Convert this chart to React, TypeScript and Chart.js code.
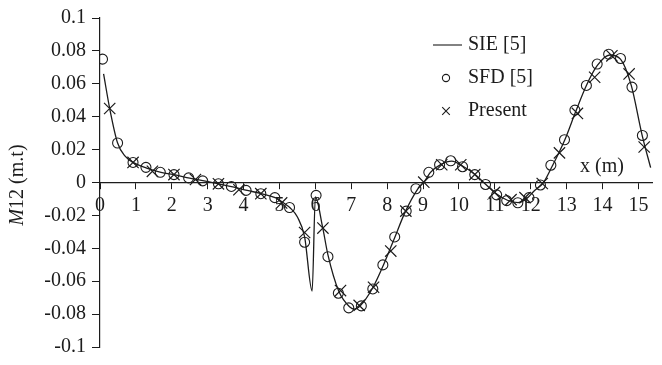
import React, { useEffect, useRef } from 'react';
import { Chart, registerables } from 'chart.js';

Chart.register(...registerables);

// SIE [5] — continuous curve
const sieX = [0.1, 0.27, 0.49, 0.7, 0.92, 1.3, 1.7, 2.1, 2.5, 2.9, 3.3, 3.7, 4.1, 4.5, 4.9, 5.1, 5.3, 5.5, 5.7, 5.91, 6.0, 6.2, 6.35, 6.65, 6.95, 7.1, 7.25, 7.6, 7.9, 8.2, 8.5, 8.85, 9.05, 9.2, 9.5, 9.8, 10.1, 10.45, 10.75, 11.05, 11.35, 11.65, 11.9, 12.1, 12.35, 12.6, 12.95, 13.25, 13.55, 13.85, 14.2, 14.5, 14.8, 15.1, 15.34];
const sieY = [0.066, 0.045, 0.024, 0.016, 0.0122, 0.0088, 0.0062, 0.0046, 0.0026, 0.001, -0.0008, -0.0026, -0.0048, -0.0068, -0.0094, -0.0122, -0.0155, -0.021, -0.033, -0.066, -0.0088, -0.027, -0.044, -0.066, -0.0755, -0.077, -0.075, -0.064, -0.05, -0.034, -0.018, -0.004, 0.001, 0.006, 0.011, 0.013, 0.01, 0.0048, -0.0012, -0.007, -0.0108, -0.0122, -0.0095, -0.005, -0.0002, 0.01, 0.026, 0.043, 0.059, 0.071, 0.0775, 0.075, 0.059, 0.029, 0.009];

// SFD [5] — circles
const sfdX = [0.07, 0.49, 0.92, 1.28, 1.68, 2.06, 2.47, 2.86, 3.3, 3.66, 4.07, 4.48, 4.87, 5.28, 5.7, 6.02, 6.35, 6.64, 6.93, 7.28, 7.6, 7.88, 8.21, 8.53, 8.8, 9.16, 9.46, 9.77, 10.1, 10.44, 10.74, 11.05, 11.33, 11.64, 11.95, 12.27, 12.56, 12.94, 13.23, 13.55, 13.85, 14.17, 14.5, 14.82, 15.11];
const sfdY = [0.075, 0.024, 0.0122, 0.0092, 0.0062, 0.0048, 0.0028, 0.001, -0.0008, -0.0024, -0.0048, -0.0068, -0.0092, -0.0152, -0.0363, -0.0078, -0.0451, -0.0673, -0.0762, -0.075, -0.0647, -0.0501, -0.0331, -0.0174, -0.0038, 0.0062, 0.0108, 0.0132, 0.0096, 0.0048, -0.0012, -0.0075, -0.011, -0.0123, -0.0092, -0.0015, 0.0105, 0.026, 0.044, 0.059, 0.072, 0.078, 0.0754, 0.058, 0.0286];

// Present — crosses
const presentX = [0.27, 0.92, 1.46, 2.06, 2.66, 3.3, 3.87, 4.48, 5.06, 5.7, 6.21, 6.7, 7.22, 7.62, 8.1, 8.52, 9.02, 9.52, 10.05, 10.44, 10.99, 11.45, 11.84, 12.32, 12.8, 13.3, 13.78, 14.26, 14.74, 15.16];
const presentY = [0.045, 0.0122, 0.0068, 0.0048, 0.0018, -0.0008, -0.0044, -0.0068, -0.0124, -0.0304, -0.0277, -0.0657, -0.0747, -0.0637, -0.0417, -0.0174, 0.0002, 0.0108, 0.0108, 0.0048, -0.006, -0.0104, -0.0092, -0.0006, 0.018, 0.042, 0.064, 0.077, 0.066, 0.0216];

const xTickValues = [0, 1, 2, 3, 4, 5, 6, 7, 8, 9, 10, 11, 12, 13, 14, 15];
const xTickLabels = ['0', '1', '2', '3', '4', '5', '6', '7', '8', '9', '10', '11', '12', '13', '14', '15'];
const yTickValues = [-0.1, -0.08, -0.06, -0.04, -0.02, 0, 0.02, 0.04, 0.06, 0.08, 0.1];
const yTickLabels = ['-0.1', '-0.08', '-0.06', '-0.04', '-0.02', '0', '0.02', '0.04', '0.06', '0.08', '0.1'];
const legendLabels = ['SIE [5]', 'SFD [5]', 'Present'];
const yTitleItalic = 'M';
const yTitleRest = '12 (m.t)';
const xTitle = 'x (m)';

const FONT = '"Liberation Serif", "Times New Roman", serif';
const FS = 20;
const INK = '#1c1c1c';

const toPts = (xs: number[], ys: number[]) => xs.map((x, i) => ({ x, y: ys[i] }));

const overlay = {
  id: 'overlay',
  afterDraw(chart: any) {
    const ctx = chart.ctx as CanvasRenderingContext2D;
    ctx.save();
    ctx.fillStyle = INK;
    ctx.strokeStyle = INK;
    ctx.lineWidth = 1.1;
    ctx.font = `${FS}px ${FONT}`;
    ctx.textBaseline = 'middle';
    ctx.textAlign = 'left';
    const lx = 446;
    const tx = 468;
    const ys = [45, 78, 111];
    ctx.beginPath();
    ctx.moveTo(433, ys[0]);
    ctx.lineTo(462, ys[0]);
    ctx.stroke();
    ctx.beginPath();
    ctx.arc(lx, ys[1], 3.6, 0, Math.PI * 2);
    ctx.stroke();
    const s = 3.8;
    ctx.beginPath();
    ctx.moveTo(lx - s, ys[2] - s);
    ctx.lineTo(lx + s, ys[2] + s);
    ctx.moveTo(lx + s, ys[2] - s);
    ctx.lineTo(lx - s, ys[2] + s);
    ctx.stroke();
    legendLabels.forEach((t, i) => ctx.fillText(t, tx, ys[i]));
    ctx.fillText(xTitle, 580, 167);

    ctx.translate(18, 185);
    ctx.rotate(-Math.PI / 2);
    ctx.font = `italic ${FS}px ${FONT}`;
    const w1 = ctx.measureText(yTitleItalic).width;
    ctx.font = `${FS}px ${FONT}`;
    const w2 = ctx.measureText(yTitleRest).width;
    const x0 = -(w1 + w2) / 2;
    ctx.font = `italic ${FS}px ${FONT}`;
    ctx.fillText(yTitleItalic, x0, 0);
    ctx.font = `${FS}px ${FONT}`;
    ctx.fillText(yTitleRest, x0 + w1, 0);
    ctx.restore();
  },
};

export default function App() {
  const ref = useRef<HTMLCanvasElement | null>(null);
  useEffect(() => {
    if (!ref.current) return;
    const chart = new Chart(ref.current, {
      type: 'scatter',
      data: {
        datasets: [
          {
            label: legendLabels[0],
            data: toPts(sieX, sieY),
            showLine: true,
            borderColor: INK,
            borderWidth: 1.3,
            pointRadius: 0,
            cubicInterpolationMode: 'monotone',
            fill: false,
          } as any,
          {
            label: legendLabels[1],
            data: toPts(sfdX, sfdY),
            showLine: false,
            pointStyle: 'circle',
            pointRadius: 5,
            pointBorderWidth: 1.1,
            pointBorderColor: INK,
            pointBackgroundColor: 'rgba(0,0,0,0)',
          },
          {
            label: legendLabels[2],
            data: toPts(presentX, presentY),
            showLine: false,
            pointStyle: 'crossRot',
            pointRadius: 8,
            pointBorderWidth: 1.2,
            pointBorderColor: INK,
            pointBackgroundColor: INK,
          },
        ],
      },
      options: {
        animation: false,
        responsive: true,
        maintainAspectRatio: false,
        layout: { padding: { top: 15, bottom: 15, left: 0, right: 1 } },
        plugins: { legend: { display: false }, tooltip: { enabled: false } },
        scales: {
          x: {
            type: 'linear',
            position: { y: 0 } as any,
            min: 0,
            max: 15.4,
            afterBuildTicks: (scale: any) => {
              scale.ticks = xTickValues.map((v) => ({ value: v }));
            },
            afterFit: (scale: any) => {
              scale.height = 0;
            },
            ticks: {
              autoSkip: false,
              maxRotation: 0,
              padding: 5,
              color: INK,
              font: { family: FONT, size: FS },
              callback: (_v: any, i: number) => xTickLabels[i],
            },
            grid: { drawOnChartArea: false, drawTicks: true, tickLength: 6, color: INK, lineWidth: 1 },
            border: { display: true, color: INK, width: 1.2 },
          },
          y: {
            type: 'linear',
            position: 'left',
            min: -0.1,
            max: 0.1,
            afterBuildTicks: (scale: any) => {
              scale.ticks = yTickValues.map((v) => ({ value: v }));
            },
            afterFit: (scale: any) => {
              scale.width = 100;
            },
            ticks: {
              autoSkip: false,
              padding: 6,
              color: INK,
              font: { family: FONT, size: FS },
              callback: (_v: any, i: number) => yTickLabels[i],
            },
            grid: { drawOnChartArea: false, drawTicks: true, tickLength: 8, color: INK, lineWidth: 1 },
            border: { display: true, color: INK, width: 1.2 },
          },
        },
      },
      plugins: [overlay],
    });
    return () => chart.destroy();
  }, []);
  return (
    <div style={{ position: 'fixed', left: 0, top: 0, width: 662, height: 365, background: '#fff' }}>
      <canvas ref={ref} />
    </div>
  );
}
